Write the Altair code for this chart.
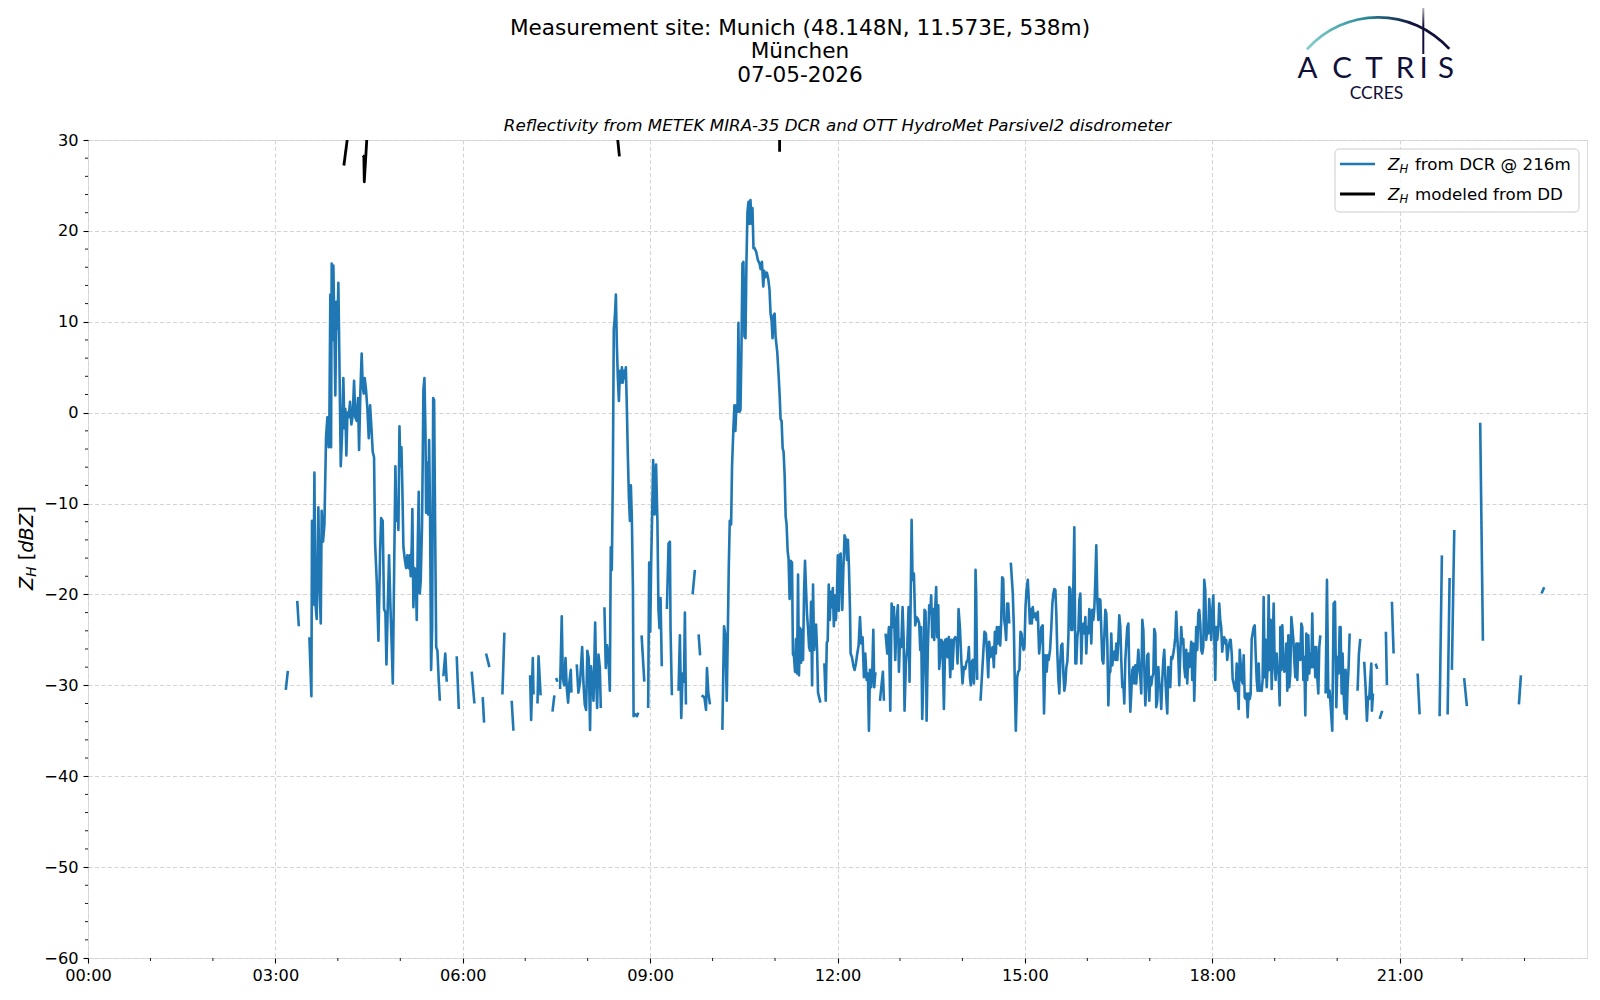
import altair as alt
import pandas as pd

# ---------------- data (minutes of day, dBZ); None = gap ----------------
dcr_03_06 = [
    (190.0, -30.5), (192.0, -28.4), None,
    (201.0, -20.7), (202.5, -23.5), None,
    (212.7, -24.7), (214.6, -31.2), (215.2, -11.9), (216.5, -21.1), (217.5, -6.6), (218.4, -20.9),
    (219.7, -22.7), (221.3, -10.4), (222.3, -18.6), (223.6, -23.2), (224.5, -10.8), (225.8, -14.2),
    (227.1, -12.3), (228.7, -2.6), (230.0, -0.5), (231.2, -3.8), (231.9, -0.5), (232.8, 13.0),
    (233.5, -3.8), (234.1, 16.4), (235.0, 8.0), (235.7, 16.2), (236.7, 9.2), (237.6, 1.9),
    (238.6, 12.2), (239.6, 9.2), (240.5, 14.3), (241.5, 5.9), (242.8, -5.9), (244.0, -2.6),
    (245.3, 3.8), (246.3, -1.7), (247.2, 0.4), (248.2, -4.7), (249.2, 0.0), (250.5, -0.5),
    (251.7, 1.2), (253.0, -1.3), (254.3, -0.3), (255.6, 3.5), (256.8, -0.5), (258.1, -0.9),
    (259.4, 1.6), (260.4, -4.1), (261.7, 2.5), (262.9, 6.5), (263.9, 2.9), (264.9, 2.1),
    (265.8, 3.8), (267.1, 2.5), (268.4, 0.4), (269.7, -2.8), (271.0, 0.8), (272.3, -1.7),
    (273.5, -4.3), (274.8, -4.9), (275.8, -14.4), (277.4, -18.6), (279.0, -25.1), (280.6, -15.3),
    (281.6, -11.6), (283.1, -11.9), (284.4, -21.6), (285.7, -22.0), (286.7, -27.7), (287.9, -21.6),
    (289.2, -15.7), (290.5, -21.2), (291.8, -25.8), (292.8, -29.8), (293.7, -21.2), (294.7, -11.4),
    (295.3, -5.9), (296.3, -11.9), (297.3, -10.6), (298.2, -12.9), (299.2, -1.5), (300.1, -5.9),
    (301.1, -3.8), (302.0, -8.5), (303.0, -14.8), (304.3, -16.1), (305.6, -17.1), (306.8, -15.7),
    (308.1, -17.1), (309.1, -15.7), (310.0, -18.0), (311.0, -14.6), (311.6, -10.6), (312.6, -21.4),
    (313.6, -17.1), (314.8, -17.3), (315.8, -22.8), (316.8, -14.4), (317.7, -8.7), (318.7, -19.9),
    (319.6, -18.6), (320.9, -12.3), (321.6, -4.7), (322.2, 2.5), (323.2, 3.8), (324.2, -2.2),
    (324.8, -11.0), (325.7, -5.5), (326.7, -11.2), (327.7, -3.0), (328.6, -11.4), (329.6, -28.3),
    (330.6, -23.7), (331.6, 1.6), (332.5, 1.4), (333.5, -13.1), (334.5, -25.8), (335.7, -26.2),
    (337.0, -29.6), (338.0, -31.7), None,
    (341.4, -29.0), (343.2, -26.5), (344.6, -29.6), None,
    (354.2, -26.8), (356.2, -32.6), None,
]

dcr_06_09 = [
    (368.6, -28.5), (371.2, -32.0), None,
    (379.2, -31.3), (380.5, -34.1), None,
    (382.4, -26.5), (385.6, -28.0), None,
    (398.1, -31.0), (400.0, -24.2), None,
    (407.0, -31.7), (408.7, -35.0), None,
    (424.7, -28.9), (425.7, -33.8), (427.3, -27.0), (428.0, -31.0), None,
    (431.8, -32.0), (432.8, -26.8), (434.8, -31.1), None,
    (446.2, -32.9), (448.0, -31.1), None,
    (449.7, -29.2), (451.0, -29.6), None,
    (453.5, -30.4), (455.1, -22.4), (456.1, -29.2), (457.4, -30.0), (458.7, -27.0), (460.0, -30.4),
    (461.2, -31.9), (462.5, -29.6), (463.8, -28.3), (464.4, -30.8), None,
    (469.5, -27.7), (471.1, -30.8), (472.7, -29.6), (474.7, -25.8), (475.9, -29.6), (477.2, -32.1),
    (478.5, -32.7), (479.7, -26.2), (481.0, -27.0), (482.3, -34.9), (483.2, -27.9), (484.5, -29.6),
    (485.6, -31.7), (487.2, -23.1), (488.2, -29.6), (489.1, -32.5), (490.4, -26.6), (491.7, -28.1),
    (492.6, -32.5), None,
    (496.1, -21.4), (497.4, -28.1), (498.7, -25.6), (500.0, -27.0), (501.3, -30.6), (502.2, -14.8),
    (503.2, -17.3), (504.2, -6.8), (505.1, 9.2), (506.1, 10.5), (507.1, 13.0), (508.0, 7.6),
    (509.0, 3.8), (510.0, 1.3), (511.0, 4.6), (511.9, 3.3), (512.9, 5.0), (513.8, 3.3),
    (514.8, 4.6), (515.7, 3.8), (516.7, 5.0), (517.6, 0.8), (518.6, -4.7), (519.6, -9.3),
    (520.6, -11.9), (521.5, -8.0), (522.5, -11.9), (523.5, -19.5), (524.1, -33.4), (525.7, -33.2),
    (527.3, -33.4), (528.6, -33.0), None,
    (531.8, -24.5), (534.4, -29.6), None,
    (538.1, -32.5), (539.1, -16.5), (540.1, -24.1), (541.0, -16.5), (542.0, -11.0), (542.9, -5.2),
    (544.3, -11.2), (545.7, -5.7), (547.0, -11.9), (548.0, -21.6), (549.0, -23.7), (550.0, -20.4),
    (551.2, -27.9), None,
]

dcr_09_12 = [
    (556.1, -21.6), (557.7, -14.4), (559.0, -14.2), (559.6, -23.7), (560.9, -31.1), None,
    (567.3, -30.6), (568.6, -24.5), (569.9, -33.6), (571.2, -28.7), (572.5, -29.6), (573.4, -22.0),
    (574.4, -32.1), None,
    (580.8, -20.0), (583.0, -17.3), None,
    (586.6, -24.4), (588.0, -26.7), None,
    (589.5, -31.1), (590.5, -31.2), (592.1, -31.3), (593.7, -32.7), (594.6, -28.1), (595.9, -30.8),
    (597.5, -32.1), None,
    (609.4, -34.9), (611.0, -23.5), (612.3, -24.5), (613.6, -31.7), (614.6, -24.5), (615.5, -17.3),
    (616.5, -11.9), (617.8, -12.3), (618.7, -5.9), (620.0, -1.7), (621.0, 0.8), (621.9, -2.0),
    (622.9, 0.8), (623.9, 0.1), (624.8, 9.9), (625.8, 0.1), (626.8, 0.3), (627.7, 6.7),
    (628.7, 16.4), (629.6, 16.6), (630.6, 8.4), (631.6, 8.2), (632.5, 16.4), (633.5, 22.1),
    (634.5, 23.2), (635.4, 20.8), (636.4, 23.4), (637.4, 20.8), (638.3, 22.5), (639.3, 18.1),
    (640.3, 18.1), (641.9, 17.7), (643.5, 16.8), (645.1, 16.4), (646.1, 15.8), (647.4, 16.6),
    (648.7, 13.9), (649.6, 15.6), (650.9, 14.9), (652.2, 15.4), (653.5, 14.7), (654.7, 13.5),
    (655.7, 10.9), (656.7, 10.1), (657.6, 8.2), (658.6, 10.7), (659.6, 10.9), (660.5, 8.4),
    (662.1, 6.7), (663.4, 4.2), (664.4, 2.0), (665.3, -0.7), (666.3, -0.9), (667.3, -3.9),
    (668.2, -4.3), (669.2, -6.8), (670.2, -11.4), (671.1, -12.3), (672.1, -15.2), (673.0, -16.1),
    (674.0, -20.5), (675.0, -16.3), (676.3, -16.5), (677.2, -26.6), (678.2, -26.8), (679.2, -28.5),
    (680.1, -24.9), (681.1, -28.7), (682.1, -17.8), (683.0, -28.9), (684.0, -23.7), (685.0, -27.5),
    (685.9, -23.9), (686.9, -27.2), (687.9, -19.5), (688.8, -16.3), (689.8, -19.5), (690.7, -22.2),
    (691.7, -23.7), (692.7, -25.8), (693.6, -26.2), (694.6, -20.8), (695.6, -30.0), (696.5, -18.9),
    (697.5, -26.1), (698.4, -24.1), (699.4, -23.3), (700.4, -26.2), (701.3, -30.8), (702.3, -31.3),
    (703.6, -31.9), None,
    (706.2, -27.7), (707.4, -27.7), (708.7, -31.7), (709.7, -25.3), (710.6, -25.1), (711.6, -18.9),
    (712.6, -22.8), (713.6, -19.7), (714.5, -21.4), (715.5, -19.3), (716.5, -23.5), (717.4, -20.1),
    (718.4, -22.8), (719.3, -20.9), (720.3, -15.7), (721.3, -21.8), (722.2, -15.7),
]

dcr_12_15 = [
    (723.0, -15.5), (724.6, -21.7), (725.6, -17.3), (726.8, -13.5), (728.1, -14.0), (729.1, -16.2),
    (730.0, -14.0), (731.0, -17.0), (732.0, -21.7), (732.6, -26.5), (733.9, -26.9), (735.2, -27.8),
    (736.4, -28.3), (737.7, -27.6), (739.0, -26.5), (740.3, -25.6), (741.6, -22.5), (742.8, -25.4),
    (744.1, -24.7), (745.4, -29.1), (746.7, -26.5), (748.0, -29.4), (749.2, -28.7), (750.2, -35.0),
    (751.2, -28.3), (752.4, -30.2), (753.4, -28.5), (754.4, -23.9), (755.3, -30.2), (756.3, -28.7),
    (757.6, -28.7), None,
    (760.8, -31.7), (763.6, -28.5), (764.6, -31.7), None,
    (766.2, -24.3), (767.8, -26.5), (769.4, -23.6), (770.7, -32.8), (772.0, -21.0), (773.2, -23.6),
    (774.2, -21.4), (775.5, -27.2), (776.8, -22.8), (778.0, -21.2), (779.0, -28.5), (780.0, -25.0),
    (781.2, -25.8), (782.5, -21.4), (783.5, -24.7), (784.4, -32.8), (785.7, -27.6), (787.0, -25.8),
    (788.3, -21.4), (789.2, -29.6), (790.2, -21.4), (791.2, -11.8), (792.1, -18.4), (793.4, -17.7),
    (794.7, -23.4), (796.0, -22.5), (797.2, -22.7), (798.5, -23.2), (799.5, -26.1), (800.4, -23.6),
    (801.4, -33.7), (802.7, -28.0), (803.6, -21.7), (804.6, -21.9), (805.6, -33.9), (806.8, -25.8),
    (808.1, -21.2), (809.1, -22.1), (810.0, -20.1), (811.0, -24.7), (812.0, -21.6), (812.9, -25.0),
    (813.9, -21.4), (814.8, -19.2), (815.8, -24.7), (816.8, -21.2), (817.7, -28.2), (818.7, -26.9),
    (819.6, -25.0), (820.9, -25.2), (822.2, -32.6), (823.5, -25.0), (824.8, -24.9), (825.7, -26.9),
    (827.0, -24.7), (828.3, -29.1), (829.6, -25.0), (830.5, -28.2), (831.8, -25.0), (833.1, -24.7),
    (834.4, -25.0), (835.3, -27.6), (836.3, -21.6), (837.6, -23.6), (838.8, -26.9), (840.1, -29.8),
    (841.4, -28.0), (842.7, -28.2), (844.0, -27.4), (845.2, -27.2), (846.2, -25.8), (847.2, -29.1),
    (848.1, -30.0), (849.1, -27.4), (850.0, -27.2), (851.0, -29.8), (852.0, -27.0), (852.6, -17.3),
    (853.2, -19.9), (854.2, -29.4), None,
    (857.4, -31.7), (858.7, -29.1), (860.0, -26.5), (861.2, -24.1), (862.5, -24.3), (863.8, -26.5),
    (864.8, -29.1), (865.7, -25.2), (867.0, -26.9), (868.0, -26.1), (869.0, -25.8), (870.2, -28.0),
    (871.2, -24.1), (872.1, -26.5), (873.1, -23.6), (874.4, -25.4), (875.3, -23.6), (876.3, -25.6),
    (877.2, -23.2), (878.2, -18.1), (879.2, -18.3), (880.1, -22.8), (881.1, -23.6), (882.0, -25.0),
    (883.0, -21.0), (884.0, -21.0), (885.0, -23.2), None,
    (886.5, -16.5), (888.4, -19.9), (889.4, -23.6), (890.4, -30.2), (891.3, -35.0), (892.6, -29.1),
    (893.6, -28.5), (894.8, -28.3), (895.8, -24.1), (896.8, -24.3), (897.7, -25.4), (898.7, -26.1),
    (899.6, -25.8),
]

dcr_15_18 = [
    (900.6, -21.4), (901.6, -19.5), (902.8, -18.4), (903.8, -20.6), (904.8, -23.2), (905.7, -21.6),
    (906.7, -23.2), (907.6, -21.4), (908.6, -22.5), (909.9, -22.1), (911.2, -22.8), (912.4, -21.9),
    (913.7, -26.5), (915.0, -25.0), (915.8, -23.6), (917.1, -23.4), (918.4, -33.1), (919.7, -26.7),
    (921.0, -28.5), (921.9, -26.7), (922.9, -27.2), (924.2, -26.1), (925.4, -23.6), (926.4, -21.0),
    (927.4, -19.9), (928.3, -19.4), (929.3, -19.5), (930.2, -22.1), (931.2, -26.5), (932.2, -29.4),
    (933.1, -30.9), (934.1, -27.2), (935.0, -25.6), (936.0, -25.4), (937.0, -28.7), (937.9, -30.6),
    (938.9, -29.8), (939.8, -28.0), (940.8, -27.4), (941.8, -24.7), (942.7, -19.2), (943.7, -19.4),
    (944.6, -23.9), (945.6, -23.9), (946.6, -18.8), (947.5, -12.6), (948.5, -27.6), (949.4, -27.6),
    (950.4, -24.7), (951.4, -23.9), (952.3, -20.6), (953.3, -19.9), (954.2, -27.6), (955.2, -23.6),
    (956.2, -23.2), (957.1, -24.3), (958.1, -22.5), (959.0, -26.5), (960.0, -23.6), (961.0, -24.3),
    (961.9, -21.6), (962.9, -22.1), (963.8, -25.4), (964.8, -21.7), (965.8, -22.8), (966.7, -21.6),
    (967.7, -18.4), (968.6, -14.6), (969.6, -20.6), (970.6, -22.8), (971.5, -20.5), (972.5, -20.6),
    (973.4, -23.9), (974.4, -27.2), (975.4, -27.6), (976.3, -24.7), (977.3, -21.7), (978.2, -22.1),
    (979.2, -25.4), (980.2, -32.2), (981.1, -28.7), (982.1, -28.5), (983.0, -24.3), (984.0, -27.8),
    (985.0, -26.5), (985.9, -26.3), (986.9, -27.2), (987.8, -25.4), (988.8, -27.2), (989.8, -25.0),
    (990.7, -22.3), (991.7, -23.6), (992.6, -27.2), (993.6, -30.2), (994.6, -29.8), (995.5, -32.0),
    (996.5, -27.2), (997.4, -25.4), (998.4, -23.6), (999.4, -23.2), (1000.3, -28.5), (1001.3, -32.9),
    (1002.2, -30.9), (1003.2, -28.3), (1004.2, -28.0), (1005.1, -29.8), (1006.1, -27.8), (1007.0, -29.8),
    (1008.0, -28.0), (1009.0, -26.1), (1009.9, -28.0), (1010.9, -29.1), (1011.8, -30.9), (1012.8, -22.8),
    (1013.8, -23.9), (1014.7, -28.0), (1015.7, -32.2), (1016.6, -30.4), (1017.6, -26.7), (1018.6, -26.5),
    (1019.5, -31.7), (1020.5, -29.1), (1021.4, -30.0), (1022.4, -29.1), (1023.4, -28.7), (1024.3, -23.8),
    (1025.3, -24.3), (1026.2, -32.4), (1027.2, -31.7), (1028.2, -28.0), (1029.1, -29.8), (1030.1, -30.2),
    (1031.0, -32.6), (1032.0, -29.4), (1033.0, -27.2), (1033.9, -26.1), (1034.9, -29.1), (1035.8, -31.3),
    (1036.8, -33.1), (1037.8, -28.0), (1038.7, -29.4), (1039.7, -30.2), (1040.6, -26.9), (1041.6, -27.1),
    (1042.6, -26.5), (1043.5, -25.8), (1044.5, -24.7), (1045.4, -21.9), (1046.4, -24.7), (1047.4, -26.7),
    (1048.3, -30.0), (1049.3, -26.5), (1050.2, -23.6), (1051.2, -25.4), (1052.2, -24.9), (1053.1, -28.0),
    (1054.1, -29.1), (1055.0, -26.1), (1056.0, -29.8), (1057.0, -26.5), (1057.9, -28.0), (1058.9, -26.9),
    (1059.8, -25.2), (1060.8, -29.4), (1061.8, -25.4), (1062.7, -31.7), (1063.7, -27.6), (1064.6, -23.6),
    (1065.6, -26.1), (1066.6, -22.1), (1067.5, -21.7), (1068.5, -23.2), (1069.4, -26.1), (1070.4, -26.5),
    (1071.4, -25.8), (1072.3, -18.4), (1073.3, -19.5), (1074.2, -25.0), (1075.2, -23.9), (1076.2, -24.3),
    (1077.1, -20.5), (1078.1, -22.5), (1079.0, -25.0),
]

dcr_18_21 = [
    (1080.0, -21.9), (1081.0, -20.1), (1081.9, -24.3), (1082.9, -29.4), (1083.8, -23.6), (1084.8, -25.0),
    (1085.8, -23.9), (1086.7, -21.0), (1087.7, -22.8), (1088.6, -23.6), (1089.6, -26.3), (1090.6, -25.0),
    (1091.5, -24.7), (1092.5, -25.4), (1093.4, -25.0), (1094.4, -27.2), (1095.7, -25.8), (1097.0, -25.0),
    (1097.7, -25.0), (1098.7, -26.5), (1099.6, -29.3), (1100.6, -29.8), (1101.6, -30.4), (1102.5, -30.6),
    (1103.5, -27.6), (1104.4, -30.2), (1105.4, -32.6), (1106.4, -26.1), (1107.3, -27.6), (1108.3, -29.4),
    (1109.2, -29.8), (1110.2, -26.7), (1111.2, -31.3), (1112.1, -31.5), (1113.1, -30.9), (1114.0, -33.5),
    (1115.0, -30.9), (1116.0, -31.5), (1116.9, -30.9), (1117.9, -24.9), (1118.8, -24.3), (1119.8, -23.6),
    (1120.8, -23.4), (1121.7, -26.5), (1122.7, -29.4), (1123.6, -30.6), (1124.6, -27.6), (1125.6, -30.6),
    (1126.5, -30.4), (1127.5, -30.6), (1128.4, -29.4), (1129.4, -20.3), (1130.4, -29.1), (1131.3, -25.0),
    (1132.3, -30.2), (1133.2, -28.0), (1134.2, -20.1), (1135.2, -28.3), (1136.1, -22.8), (1137.1, -30.4),
    (1138.0, -25.8), (1139.0, -21.0), (1140.0, -28.0), (1140.9, -29.4), (1141.9, -26.5), (1142.8, -28.3),
    (1143.8, -28.7), (1144.8, -32.2), (1145.4, -23.6), (1146.4, -28.3), (1147.3, -23.4), (1148.3, -26.9),
    (1149.2, -28.5), (1150.2, -28.3), (1151.2, -25.4), (1152.1, -30.6), (1153.1, -24.5), (1154.0, -30.2),
    (1155.0, -28.7), (1156.0, -22.5), (1156.9, -23.6), (1157.9, -25.0), (1158.8, -27.2), (1159.8, -29.1),
    (1160.8, -25.4), (1161.7, -29.4), (1162.7, -25.4), (1163.6, -25.8), (1164.6, -27.2), (1165.6, -23.2),
    (1166.5, -23.6), (1167.5, -29.4), (1168.4, -26.9), (1169.4, -33.3), (1170.4, -24.3), (1171.3, -29.4),
    (1172.3, -24.5), (1173.2, -28.7), (1174.2, -26.5), (1175.2, -28.0), (1176.1, -22.1), (1177.1, -28.0),
    (1178.0, -25.8), (1179.0, -29.1), (1180.0, -25.8), (1180.9, -29.1), (1181.9, -30.9), (1182.8, -25.8),
    (1183.8, -24.5), None,
    (1188.9, -30.9), (1190.2, -18.4), (1191.5, -31.3), (1192.8, -30.6), (1195.3, -35.0), (1196.6, -21.0),
    (1197.9, -20.8), (1199.2, -32.4), (1200.4, -26.9), (1201.4, -28.7), (1202.4, -23.6), (1203.3, -23.6),
    (1204.3, -30.9), (1205.2, -26.5), (1206.2, -30.9), (1207.2, -33.1), (1208.1, -28.3), (1209.1, -33.7),
    (1210.0, -30.2), (1211.0, -28.0), (1212.0, -24.3), None,
    (1219.6, -30.6), (1220.9, -26.5), (1222.2, -24.9), None,
    (1226.0, -27.4), (1227.3, -30.2), (1228.6, -33.9), (1229.6, -31.3), (1230.8, -31.5), (1231.8, -29.4),
    (1232.8, -27.6), (1233.4, -32.8), (1234.4, -30.9), None,
    (1237.0, -27.6), (1238.5, -28.2), None,
    (1240.8, -33.7), (1243.3, -32.8), None,
    (1246.8, -24.1), (1247.8, -30.0), None,
    (1252.6, -20.8), (1254.2, -26.5), None,
]

dcr_21_24 = [
    (1277.3, -28.7), (1279.2, -33.2), None,
    (1298.4, -33.4), (1300.6, -15.7), None,
    (1306.1, -33.2), (1308.0, -18.2), None,
    (1310.2, -28.3), (1312.5, -12.9), None,
    (1322.0, -29.2), (1324.6, -32.3), None,
    (1337.4, -1.1), (1340.0, -25.1), None,
    (1374.6, -32.1), (1376.5, -28.9), None,
    (1396.3, -19.9), (1398.9, -19.2), None,
]

# disdrometer-modeled Z_H (mostly above the 30 dBZ axis limit -> clipped)
dd_series = [
    (245.8, 27.2), (255.8, 36.0), None,
    (264.0, 28.3), (265.0, 28.2), (265.4, 25.4), (270.9, 36.0), None,
    (503.6, 36.0), (510.5, 28.2), None,
    (664.2, 40.0), (664.4, 28.7), None,
]

x_ticks = [0, 3, 6, 9, 12, 15, 18, 21]
x_minor = [h for h in range(1, 24) if h % 3 != 0]
y_ticks = list(range(-60, 31, 10))
y_minor = [v for v in range(-58, 30, 2) if v % 10 != 0]

title_lines = ["Measurement site: Munich (48.148N, 11.573E, 538m)", "München", "07-05-2026"]
subtitle = "Reflectivity from METEK MIRA-35 DCR and OTT HydroMet Parsivel2 disdrometer"
legend_labels = ["from DCR @ 216m", "modeled from DD"]


def to_frame(*parts):
    rows, seg = [], 0
    for part in parts:
        for item in part:
            if item is None:
                seg += 1
                continue
            rows.append({"hour": item[0] / 60.0, "dbz": item[1], "seg": seg})
    return pd.DataFrame(rows)


df_dcr = to_frame(dcr_03_06, dcr_06_09, dcr_09_12, dcr_12_15, dcr_15_18, dcr_18_21, dcr_21_24)
df_dd = to_frame(dd_series)

W, H = 1499, 818
FONT = "DejaVu Sans"
BLUE = "#1f77b4"
TICK_FS = 16.2

xs = alt.Scale(domain=[0, 24], nice=False, zero=False)
ys = alt.Scale(domain=[-60, 30], nice=False, zero=False)

x_axis = alt.Axis(
    values=x_ticks, labelExpr="(datum.value < 10 ? '0' : '') + datum.value + ':00'",
    grid=True, gridDash=[4, 2.5], gridColor="#d3d3d3", gridWidth=1,
    domain=False, tickSize=5, tickColor="black", tickWidth=1.1,
    labelFont=FONT, labelFontSize=TICK_FS, labelColor="black", labelPadding=4,
    labelFlush=False, labelOverlap=False, labelBound=False, title=None,
)
y_axis = alt.Axis(
    values=y_ticks, grid=True, gridDash=[4, 2.5], gridColor="#d3d3d3", gridWidth=1,
    domain=False, tickSize=5, tickColor="black", tickWidth=1.1,
    labelFont=FONT, labelFontSize=TICK_FS, labelColor="black", labelPadding=5,
    labelOverlap=False, labelBound=False, labelFlush=False, title=None,
)

one = pd.DataFrame({"k": [0]})


def txt(s, x, y, size, italic=False, align="left", baseline="alphabetic", angle=None,
        color="black", font=FONT):
    kw = dict(text=s, fontSize=size, align=align, baseline=baseline, color=color, font=font)
    if italic:
        kw["fontStyle"] = "italic"
    if angle is not None:
        kw["angle"] = angle
    return alt.Chart(one).mark_text(**kw).encode(x=alt.value(x), y=alt.value(y))


dcr_line = alt.Chart(df_dcr).mark_line(
    color=BLUE, strokeWidth=2.6, clip=True, strokeJoin="round"
).encode(
    x=alt.X("hour:Q", scale=xs, axis=x_axis),
    y=alt.Y("dbz:Q", scale=ys, axis=y_axis),
    detail="seg:N",
)

dd_line = alt.Chart(df_dd).mark_line(
    color="black", strokeWidth=2.8, clip=True, strokeJoin="round"
).encode(
    x=alt.X("hour:Q", scale=xs, axis=x_axis),
    y=alt.Y("dbz:Q", scale=ys, axis=y_axis),
    detail="seg:N",
)

xminor = alt.Chart(pd.DataFrame({"h": x_minor})).mark_rule(color="black", strokeWidth=0.9).encode(
    x=alt.X("h:Q", scale=xs, axis=x_axis), y=alt.value(H), y2=alt.value(H + 3)
)
yminor = alt.Chart(pd.DataFrame({"v": y_minor})).mark_rule(color="black", strokeWidth=0.9).encode(
    y=alt.Y("v:Q", scale=ys, axis=y_axis), x=alt.value(-3), x2=alt.value(0)
)

layers = [dcr_line, dd_line, xminor, yminor]

# titles
layers += [
    txt(title_lines[0], 712, -111.5, 21.6, align="center", baseline="middle"),
    txt(title_lines[1], 712, -88, 21.6, align="center", baseline="middle"),
    txt(title_lines[2], 712, -64.5, 21.6, align="center", baseline="middle"),
    txt(subtitle, 749.5, -14.5, 16.7, italic=True, align="center", baseline="middle"),
]

# y label: Z_H [dBZ]
layers += [
    txt("Z", -55.5, 450, 19.4, italic=True, angle=270),
    txt("H", -52.5, 436.7, 13.6, italic=True, angle=270),
    txt("[", -55.5, 420.3, 19.4, angle=270),
    txt("dBZ", -55.5, 412.7, 19.4, italic=True, angle=270),
    txt("]", -55.5, 373.8, 19.4, angle=270),
]

# legend
layers += [
    alt.Chart(one).mark_rect(
        fill="white", fillOpacity=0.8, stroke="#cccccc", strokeWidth=1, cornerRadius=4
    ).encode(x=alt.value(1247), x2=alt.value(1491), y=alt.value(9), y2=alt.value(72)),
    alt.Chart(one).mark_rule(color=BLUE, strokeWidth=2.6).encode(
        x=alt.value(1252), x2=alt.value(1287), y=alt.value(24)),
    alt.Chart(one).mark_rule(color="black", strokeWidth=2.8).encode(
        x=alt.value(1252), x2=alt.value(1287), y=alt.value(54)),
]
for i, lab in enumerate(legend_labels):
    yb = 30 + 30 * i
    layers += [
        txt("Z", 1300, yb, 16.7, italic=True),
        txt("H", 1311.4, yb + 3, 11.7, italic=True),
        txt(lab, 1327, yb, 16.7),
    ]

# ACTRIS / CCRES logo
NAVY = "#10103a"
arc_grad = alt.Gradient(
    gradient="linear",
    stops=[alt.GradientStop(color="#86d3cc", offset=0),
           alt.GradientStop(color="#2c8c9c", offset=0.4),
           alt.GradientStop(color=NAVY, offset=0.75)],
    x1=0, x2=1, y1=0, y2=0,
)
bar_grad = alt.Gradient(
    gradient="linear",
    stops=[alt.GradientStop(color="#e8e8f0", offset=0),
           alt.GradientStop(color=NAVY, offset=0.45)],
    x1=0, x2=0, y1=0, y2=1,
)
layers += [
    alt.Chart(one).mark_arc(radius=97, radius2=94.3, theta=5.44, theta2=7.12, color=arc_grad).encode(
        x=alt.value(1290.3), y=alt.value(-27)),
    alt.Chart(one).mark_rect(color=bar_grad).encode(
        x=alt.value(1334.3), x2=alt.value(1336.3), y=alt.value(-138), y2=alt.value(-86)),
]
for letter, cx in zip("ACTRIS", [1219.5, 1254, 1286, 1317, 1335.5, 1358]):
    layers.append(txt(letter, cx, -62, 29.5, align="center", color=NAVY, font="Lato"))
layers.append(txt("CCRES", 1288.5, -41, 17.5, align="center", color=NAVY, font="Lato"))

chart = alt.layer(*layers).properties(
    width=W, height=H,
    autosize=alt.AutoSizeParams(type="none"),
    padding={"left": 80, "top": 132, "right": 5, "bottom": 34},
).configure_view(stroke="black", strokeWidth=1.1).configure(background="white")

chart.save("out.html", embed_options={"renderer": "svg", "actions": False})
